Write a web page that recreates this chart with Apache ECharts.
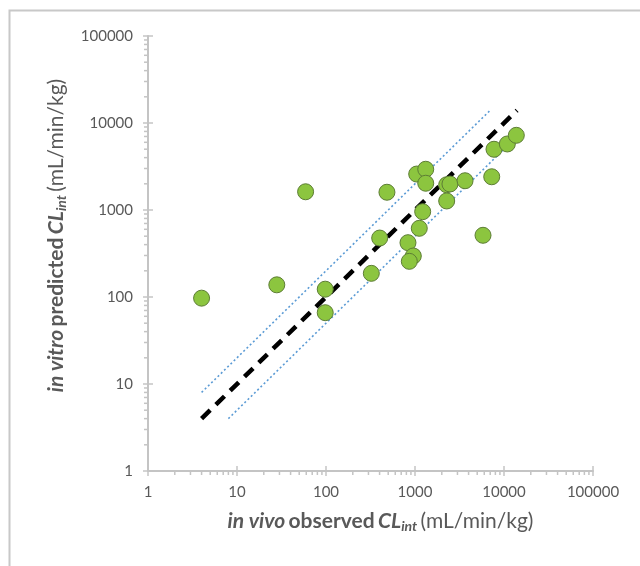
<!DOCTYPE html>
<html>
<head>
<meta charset="utf-8">
<script src="https://cdn.jsdelivr.net/npm/echarts@6/dist/echarts.min.js"></script>
<style>html,body{margin:0;padding:0;background:#fff}#c{width:640px;height:566px}</style>
</head>
<body>
<div id="c"></div>
<script>
// in vivo observed CLint (x) vs in vitro predicted CLint (y)
const observed = [4, 28, 98, 98, 59, 484, 323, 401, 834, 957, 863, 1117, 1220, 1045, 1320, 1320, 2270, 2470, 2270, 3650, 5810, 7280, 7720, 10900, 13750];
const predicted = [97, 138, 123, 66, 1620, 1600, 187, 476, 421, 296, 257, 616, 956, 2590, 2940, 2030, 1950, 1990, 1270, 2170, 512, 2410, 4990, 5740, 7220];
// reference lines: unity, 2-fold above, 2-fold below
const unityLine = [[4, 4], [14000, 14000]];
const upperLine = [[4, 8], [7000, 14000]];
const lowerLine = [[8, 4], [14000, 7000]];
const decades = [1, 10, 100, 1000, 10000, 100000];
const minorMult = [2, 3, 4, 5, 6, 7, 8, 9];

const points = observed.map((x, i) => [x, predicted[i]]);
const xTicks = [], yTicks = [];
decades.forEach(d => { xTicks.push([d, 1, 1]); yTicks.push([1, d, 1]); });
decades.slice(0, -1).forEach(d => minorMult.forEach(m => { xTicks.push([d * m, 1, 0]); yTicks.push([1, d * m, 0]); }));

const axisColor = '#c4c4c4';
const textColor = '#595959';
const font = 'Lato';

function tickRender(isX) {
  return function (params, api) {
    const p = api.coord([api.value(0), api.value(1)]);
    const major = api.value(2) === 1;
    let shape;
    if (isX) shape = major ? {x1: p[0], y1: p[1] - 5, x2: p[0], y2: p[1] + 5} : {x1: p[0], y1: p[1], x2: p[0], y2: p[1] + 4};
    else shape = major ? {x1: p[0] - 5, y1: p[1], x2: p[0] + 5, y2: p[1]} : {x1: p[0] - 4, y1: p[1], x2: p[0], y2: p[1]};
    return {type: 'line', shape: shape, style: {stroke: axisColor, lineWidth: 1.5}};
  };
}

const richStyles = {
  i: {fontStyle: 'italic', fontWeight: 'bold', fontSize: 21, color: textColor, fontFamily: font},
  b: {fontWeight: 'bold', fontSize: 21, color: textColor, fontFamily: font},
  c: {fontStyle: 'italic', fontWeight: 'bold', fontSize: 21, color: textColor, fontFamily: font},
  s: {fontStyle: 'italic', fontWeight: 'bold', fontSize: 14, color: textColor, fontFamily: font, verticalAlign: 'bottom', padding: [10, 0, 0, 0]},
  n: {fontSize: 21, color: textColor, fontFamily: font}
};

const labelFmt = v => String(Math.round(v));

const chart = echarts.init(document.getElementById('c'), null, {renderer: 'canvas'});
chart.setOption({
  backgroundColor: '#fff',
  animation: false,
  graphic: [{
    type: 'rect', left: 7, top: 8, shape: {width: 660, height: 600},
    style: {fill: 'none', stroke: '#c8c8c8', lineWidth: 2}
  }],
  grid: {left: 148, right: 47, top: 36, bottom: 95},
  xAxis: {
    type: 'log', logBase: 10, min: 1, max: 100000,
    axisLine: {lineStyle: {color: axisColor, width: 2}},
    axisTick: {show: false},
    splitLine: {show: false},
    axisLabel: {color: textColor, fontSize: 15, fontFamily: font, margin: 14, formatter: labelFmt},
    name: '{i|in vivo} {b|observed} {c|CL}{s|int} {n|(mL/min/kg)}',
    nameLocation: 'middle', nameGap: 38,
    nameTextStyle: {rich: richStyles, padding: [0, 0, 0, 20]}
  },
  yAxis: {
    type: 'log', logBase: 10, min: 1, max: 100000,
    axisLine: {lineStyle: {color: axisColor, width: 2}},
    axisTick: {show: false},
    splitLine: {show: false},
    axisLabel: {color: textColor, fontSize: 15, fontFamily: font, margin: 15, formatter: labelFmt},
    name: '{i|in vitro} {b|predicted} {c|CL}{s|int} {n|(mL/min/kg)}',
    nameLocation: 'middle', nameGap: 80,
    nameTextStyle: {rich: richStyles, padding: [0, 0, 0, 36]}
  },
  series: [
    {type: 'custom', renderItem: tickRender(true), data: xTicks, clip: false, silent: true, z: 1},
    {type: 'custom', renderItem: tickRender(false), data: yTicks, clip: false, silent: true, z: 1},
    {type: 'line', data: upperLine, symbol: 'none', lineStyle: {color: '#5b9bd5', width: 1.6, type: [2, 2.5]}, z: 2},
    {type: 'line', data: lowerLine, symbol: 'none', lineStyle: {color: '#5b9bd5', width: 1.6, type: [2, 2.5]}, z: 2},
    {type: 'line', data: unityLine, symbol: 'none', lineStyle: {color: '#000', width: 4.5, type: [12, 8]}, z: 3},
    {type: 'scatter', data: points, symbol: 'circle', symbolSize: 16,
     itemStyle: {color: '#8cc53f', borderColor: '#5d7d35', borderWidth: 1, opacity: 1}, z: 4}
  ]
});
</script>
</body>
</html>
